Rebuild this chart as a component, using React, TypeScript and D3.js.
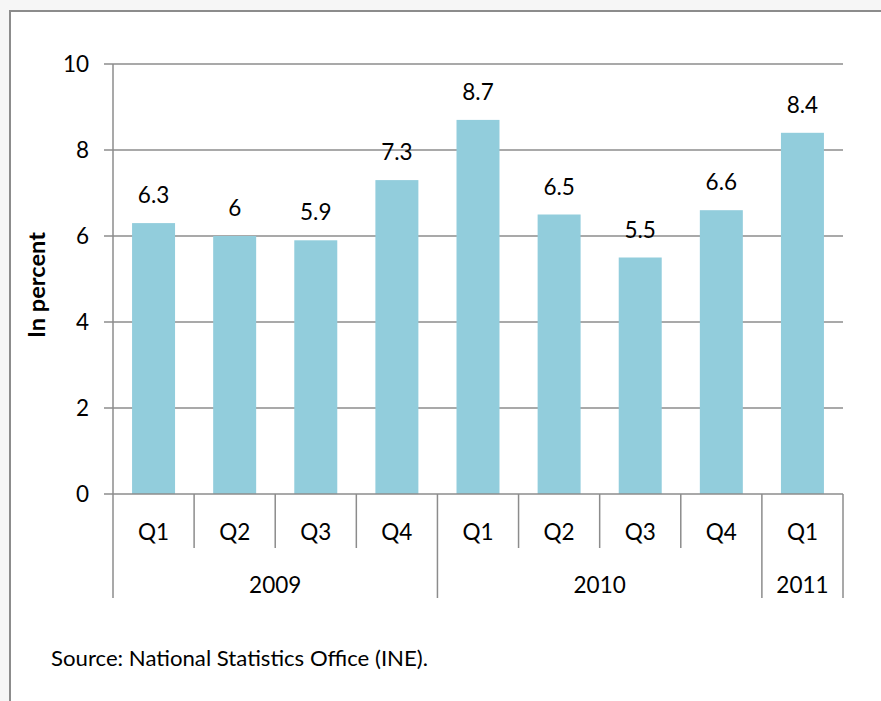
import React, { useEffect, useRef } from "react";
import * as d3 from "d3";

const quarters = ["Q1", "Q2", "Q3", "Q4", "Q1", "Q2", "Q3", "Q4", "Q1"];
const years = ["2009", "2009", "2009", "2009", "2010", "2010", "2010", "2010", "2011"];
const values = [6.3, 6, 5.9, 7.3, 8.7, 6.5, 5.5, 6.6, 8.4];
const yTicks = [0, 2, 4, 6, 8, 10];

const FONT = "Lato, 'Open Sans', sans-serif";
const GRID = "#8c8c8c";
const FS = 22.5;

export default function App() {
  const ref = useRef<SVGSVGElement>(null);

  useEffect(() => {
    const width = 881;
    const height = 701;
    const margin = { left: 113, right: 38, top: 64, bottom: 207 };
    const svg = d3.select(ref.current);
    svg.selectAll("*").remove();

    // page background + frame
    svg.append("rect").attr("width", width).attr("height", height).attr("fill", "#f6f6f6");
    svg.append("rect").attr("x", 10).attr("y", 11).attr("width", width).attr("height", height).attr("fill", "#fff");
    svg.append("path").attr("d", `M10,${height}V11H${width}`).attr("fill", "none").attr("stroke", "#8c8c8c").attr("stroke-width", 2);

    const plotW = width - margin.left - margin.right;
    const plotH = height - margin.top - margin.bottom;
    const g = svg.append("g").attr("transform", `translate(${margin.left},${margin.top})`);

    const idx = values.map((_, i) => i);
    const x = d3.scaleBand<number>().domain(idx).range([0, plotW]).paddingInner(0.47).paddingOuter(0.235);
    const xBand = d3.scaleBand<number>().domain(idx).range([0, plotW]);
    const y = d3.scaleLinear().domain([0, 10]).range([plotH, 0]);

    // gridlines
    g.append("g")
      .selectAll("line")
      .data(yTicks.filter((t) => t > 0))
      .enter()
      .append("line")
      .attr("x1", -9)
      .attr("x2", plotW)
      .attr("y1", (d) => y(d))
      .attr("y2", (d) => y(d))
      .attr("stroke", GRID)
      .attr("stroke-width", 1.5);

    // bars
    g.append("g")
      .selectAll("rect")
      .data(values)
      .enter()
      .append("rect")
      .attr("x", (d, i) => x(i)!)
      .attr("width", x.bandwidth())
      .attr("y", (d) => y(d))
      .attr("height", (d) => plotH - y(d))
      .attr("fill", "#92cddc");

    // value labels
    g.append("g")
      .selectAll("text")
      .data(values)
      .enter()
      .append("text")
      .attr("x", (d, i) => x(i)! + x.bandwidth() / 2)
      .attr("y", (d) => y(d) - 20)
      .attr("text-anchor", "middle")
      .attr("font-family", FONT)
      .attr("font-size", FS)
      .attr("fill", "#000")
      .text((d) => String(d));

    // y axis
    g.append("line").attr("x1", 0).attr("x2", 0).attr("y1", 0).attr("y2", plotH + 104).attr("stroke", GRID).attr("stroke-width", 1.5);
    g.append("line").attr("x1", -9).attr("x2", plotW).attr("y1", plotH).attr("y2", plotH).attr("stroke", GRID).attr("stroke-width", 1.5);
    g.append("g")
      .selectAll("text")
      .data(yTicks)
      .enter()
      .append("text")
      .attr("x", -24)
      .attr("y", (d) => y(d) + 8)
      .attr("text-anchor", "end")
      .attr("font-family", FONT)
      .attr("font-size", FS)
      .text((d) => String(d));

    g.append("text")
      .attr("transform", `translate(-68,${plotH / 2 + 6}) rotate(-90)`)
      .attr("text-anchor", "middle")
      .attr("font-family", FONT)
      .attr("font-weight", "bold")
      .attr("font-size", 22)
      .attr("textLength", 106)
      .attr("lengthAdjust", "spacingAndGlyphs")
      .text("In percent");

    // category separators
    g.append("g")
      .selectAll("line")
      .data(idx.slice(1).concat([values.length]))
      .enter()
      .append("line")
      .attr("x1", (i) => (i < values.length ? xBand(i)! : plotW))
      .attr("x2", (i) => (i < values.length ? xBand(i)! : plotW))
      .attr("y1", plotH)
      .attr("y2", (i) => (i === values.length || years[i] !== years[i - 1] ? plotH + 104 : plotH + 54))
      .attr("stroke", GRID)
      .attr("stroke-width", 1.5);

    g.append("g")
      .selectAll("text")
      .data(quarters)
      .enter()
      .append("text")
      .attr("x", (d, i) => xBand(i)! + xBand.bandwidth() / 2)
      .attr("y", plotH + 46)
      .attr("text-anchor", "middle")
      .attr("font-family", FONT)
      .attr("font-size", FS)
      .text((d) => d);

    const yearGroups = d3.groups(idx, (i) => years[i]);
    g.append("g")
      .selectAll("text")
      .data(yearGroups)
      .enter()
      .append("text")
      .attr("x", ([, is]) => (xBand(is[0])! + xBand(is[is.length - 1])! + xBand.bandwidth()) / 2)
      .attr("y", plotH + 99)
      .attr("text-anchor", "middle")
      .attr("font-family", FONT)
      .attr("font-size", FS)
      .text(([yr]) => yr);

    svg.append("text")
      .attr("x", 51)
      .attr("y", 666)
      .attr("font-family", FONT)
      .attr("font-size", 21)
      .attr("textLength", 377)
      .attr("lengthAdjust", "spacingAndGlyphs")
      .text("Source: National Statistics Office (INE).");
  }, []);

  return (
    <svg
      ref={ref}
      width={881}
      height={701}
      style={{ position: "absolute", left: 0, top: 0, display: "block" }}
    />
  );
}
